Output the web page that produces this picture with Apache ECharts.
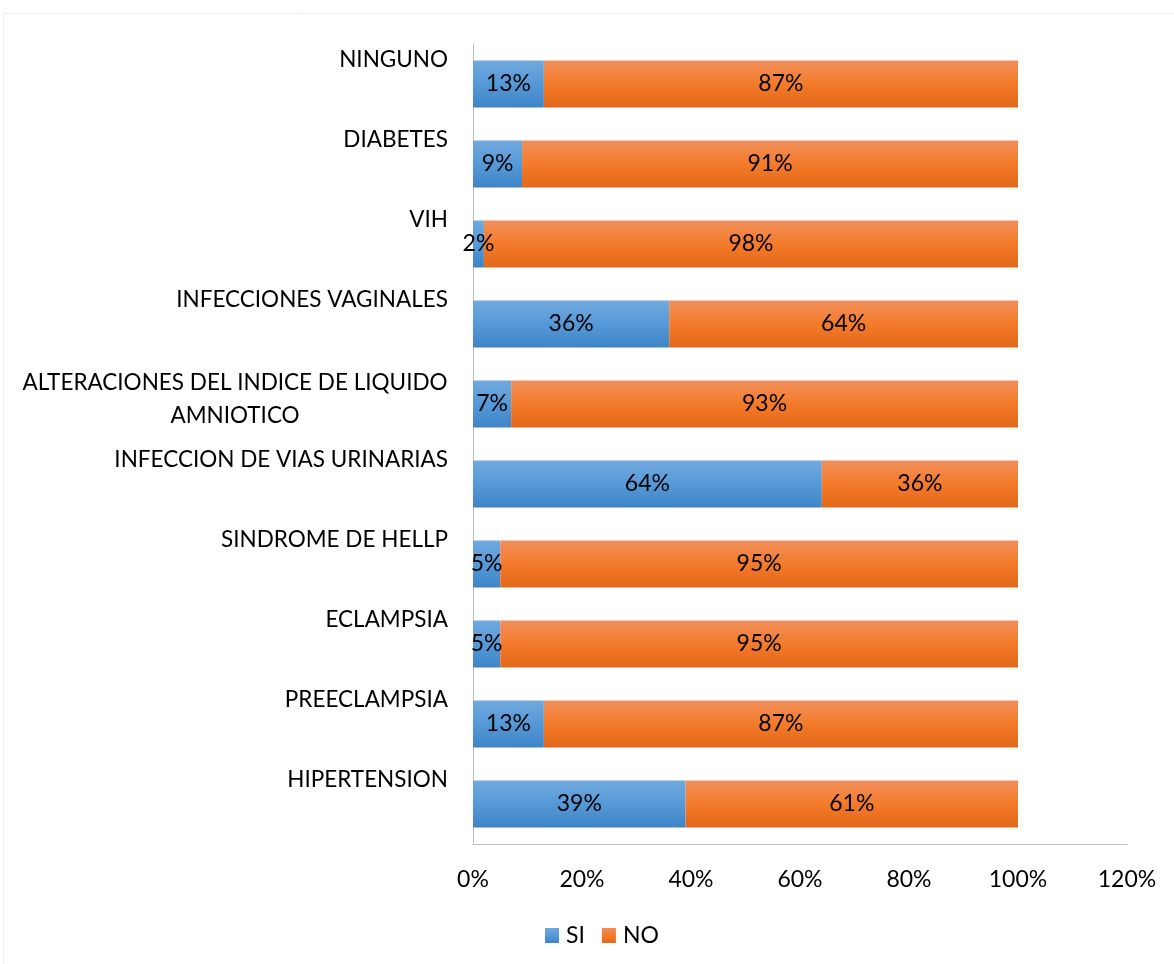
<!DOCTYPE html>
<html>
<head>
<meta charset="utf-8">
<script src="https://cdn.jsdelivr.net/npm/echarts@6/dist/echarts.min.js"></script>
<style>
  html, body { margin: 0; padding: 0; background: #ffffff; }
  #chart { width: 1174px; height: 964px; }
</style>
</head>
<body>
<div id="chart"></div>
<script>
// Conditions listed top to bottom; "\n" marks a wrapped label line
const categories = [
  'NINGUNO',
  'DIABETES',
  'VIH',
  'INFECCIONES VAGINALES',
  'ALTERACIONES DEL INDICE DE LIQUIDO\nAMNIOTICO',
  'INFECCION DE VIAS URINARIAS',
  'SINDROME DE HELLP',
  'ECLAMPSIA',
  'PREECLAMPSIA',
  'HIPERTENSION'
];
const siValues = [13, 9, 2, 36, 7, 64, 5, 5, 13, 39];
const noValues = [87, 91, 98, 64, 93, 36, 95, 95, 87, 61];
const xTicks = [0, 20, 40, 60, 80, 100, 120];

const FONT = 'Lato';
const CAT_SIZE = 22.5;
const TXT_SIZE = 23;

// Width of the widest wrapped line, so wrapped lines can be centred under each other
const measureCtx = document.createElement('canvas').getContext('2d');
measureCtx.font = CAT_SIZE + 'px ' + FONT;
let wrapWidth = 0;
categories.forEach(c => {
  const parts = c.split('\n');
  if (parts.length > 1) {
    parts.forEach(p => { wrapWidth = Math.max(wrapWidth, Math.ceil(measureCtx.measureText(p).width)); });
  }
});

function vGrad(stops) {
  return new echarts.graphic.LinearGradient(0, 0, 0, 1,
    stops.map(([offset, color]) => ({ offset, color })));
}
const blueFill = vGrad([[0, '#72a9dd'], [0.5, '#5599d8'], [1, '#3f84c5']]);
const orangeFill = vGrad([[0, '#f08f5c'], [0.5, '#f47b2a'], [1, '#e3681a']]);

const chart = echarts.init(document.getElementById('chart'));

const valueLabel = {
  show: true,
  position: 'inside',
  formatter: '{c}%',
  fontFamily: FONT,
  fontSize: TXT_SIZE,
  color: '#000000'
};

chart.setOption({
  animation: false,
  textStyle: { fontFamily: FONT },
  graphic: [{
    type: 'rect',
    shape: { x: 3.5, y: 13.5, width: 1180, height: 960 },
    style: { fill: 'none', stroke: '#eeeeee', lineWidth: 1 },
    silent: true
  }],
  legend: {
    data: ['SI', 'NO'],
    left: 545,
    top: 924,
    padding: 0,
    itemWidth: 14,
    itemHeight: 15,
    itemGap: 17,
    icon: 'rect',
    textStyle: { fontFamily: FONT, fontSize: TXT_SIZE, color: '#000000', padding: [0, 0, 0, 2] }
  },
  grid: { left: 473, right: 47, top: 44, bottom: 120, containLabel: false },
  xAxis: {
    type: 'value',
    min: xTicks[0],
    max: xTicks[xTicks.length - 1],
    interval: 20,
    splitLine: { show: false },
    axisLine: { show: true, lineStyle: { color: '#bfbfbf', width: 1 } },
    axisTick: { show: false },
    axisLabel: {
      formatter: '{value}%',
      fontFamily: FONT,
      fontSize: TXT_SIZE,
      color: '#000000',
      margin: 24
    }
  },
  yAxis: {
    type: 'category',
    data: categories,
    inverse: true,
    axisLine: { show: true, lineStyle: { color: '#bfbfbf', width: 1 } },
    axisTick: { show: false },
    axisLabel: {
      margin: 25,
      color: '#000000',
      fontFamily: FONT,
      fontSize: CAT_SIZE,
      formatter: function (val) {
        const lines = val.split('\n');
        if (lines.length === 1) {
          return '{t1|' + val + '}\n{e1| }';
        }
        return lines.map(l => '{t|' + l + '}').join('\n') + '\n{e2| }';
      },
      rich: {
        t1: { fontFamily: FONT, fontSize: CAT_SIZE, color: '#000000', lineHeight: 48 },
        e1: { fontSize: CAT_SIZE, lineHeight: 48 },
        t: { fontFamily: FONT, fontSize: CAT_SIZE, color: '#000000', lineHeight: 33,
             width: wrapWidth, align: 'center' },
        e2: { fontSize: 10, lineHeight: 10 }
      }
    }
  },
  series: [
    {
      name: 'SI',
      type: 'bar',
      stack: 'total',
      barWidth: 47,
      data: siValues,
      itemStyle: { color: blueFill },
      label: valueLabel
    },
    {
      name: 'NO',
      type: 'bar',
      stack: 'total',
      barWidth: 47,
      data: noValues,
      itemStyle: { color: orangeFill },
      label: valueLabel
    }
  ]
});
</script>
</body>
</html>
